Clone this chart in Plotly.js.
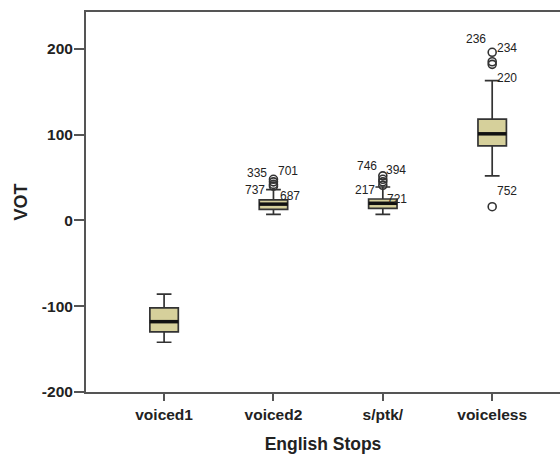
<!DOCTYPE html>
<html><head><meta charset="utf-8">
<script src="https://cdn.plot.ly/plotly-3.0.1.min.js"></script>
<style>html,body{margin:0;padding:0;background:#fff}</style>
</head><body><div id="chart" style="width:560px;height:454px"></div>
<script>
const categories = ['voiced1', 'voiced2', 's/ptk/', 'voiceless'];
const q1Values = [-130, 13, 14, 87];
const medianValues = [-118, 19, 20, 101];
const q3Values = [-102, 24, 25, 118];
const lowerWhisker = [-142, 7, 7, 52];
const upperWhisker = [-86, 36, 39, 163];
const outlierCategory = ['voiced2', 'voiced2', 'voiced2', 'voiced2', 's/ptk/', 's/ptk/', 's/ptk/', 's/ptk/', 'voiceless', 'voiceless', 'voiceless', 'voiceless'];
const outlierValues = [48, 45, 42, 40, 52, 48, 45, 41, 196, 185, 182, 16];
const outlierLabels = ['335', '701', '737', '687', '746', '394', '217', '721', '236', '234', '220', '752'];
const yTickValues = [-200, -100, 0, 100, 200];
const yTickLabels = ['-200', '-100', '0', '100', '200'];

// label pixel offsets (style only)
const labelShiftX = [-16, 15, -18, 17, -16, 13, -18, 14, -16, 15, 15, 15];
const labelShiftY = [6, 11, -6, -10, 10, 9, -8, -14, 13, 14, -14, 16];

const FONT = 'Arial, "Liberation Sans", sans-serif';
const boxWidth = 0.26;

const boxTrace = {
  type: 'box',
  x: categories,
  q1: q1Values,
  median: medianValues,
  q3: q3Values,
  lowerfence: lowerWhisker,
  upperfence: upperWhisker,
  width: boxWidth,
  whiskerwidth: 0.52,
  fillcolor: '#d6d09b',
  line: {color: '#333333', width: 1.7},
  boxpoints: false,
  hoverinfo: 'skip',
  showlegend: false
};

const outlierTrace = {
  type: 'scatter',
  mode: 'markers',
  x: outlierCategory,
  y: outlierValues,
  marker: {symbol: 'circle-open', size: 8, color: '#333333', line: {width: 1.6}},
  showlegend: false,
  hoverinfo: 'skip'
};

const annotations = outlierValues.map((v, i) => ({
  x: outlierCategory[i], y: v, xref: 'x', yref: 'y',
  text: outlierLabels[i], showarrow: false,
  xanchor: 'center', yanchor: 'middle',
  xshift: labelShiftX[i], yshift: labelShiftY[i],
  font: {family: FONT, size: 12, color: '#222'}
}));

const shapes = medianValues.map((m, i) => ({
  type: 'line', xref: 'x', yref: 'y',
  x0: i - boxWidth / 2, x1: i + boxWidth / 2, y0: m, y1: m,
  line: {color: '#111111', width: 3.5}
}));

const layout = {
  width: 560, height: 454,
  margin: {l: 86, r: 0, t: 12, b: 62},
  paper_bgcolor: '#ffffff', plot_bgcolor: '#ffffff',
  font: {family: FONT, color: '#222'},
  xaxis: {
    type: 'category',
    range: [-0.714, 3.62],
    showline: true, linecolor: '#555555', linewidth: 2,
    mirror: true,
    ticks: 'outside', ticklen: 7, tickwidth: 2, tickcolor: '#555555',
    showgrid: false, zeroline: false,
    tickfont: {family: FONT, size: 15.5, color: '#222', weight: 'bold'},
    title: {text: '<b>English Stops</b>', font: {family: FONT, size: 17.5, color: '#222'}, standoff: 16}
  },
  yaxis: {
    range: [-200, 243],
    tickvals: yTickValues,
    ticktext: yTickLabels,
    showline: true, linecolor: '#555555', linewidth: 2,
    ticks: 'outside', ticklen: 10, tickwidth: 2, tickcolor: '#555555',
    ticklabelstandoff: -2,
    showgrid: false, zeroline: false,
    tickfont: {family: FONT, size: 15.5, color: '#222', weight: 'bold'},
    title: {text: '<b>VOT</b>', font: {family: FONT, size: 18, color: '#222'}, standoff: 10}
  },
  annotations: annotations,
  shapes: shapes
};

Plotly.newPlot('chart', [boxTrace, outlierTrace], layout, {displayModeBar: false, staticPlot: true});
</script>
</body></html>
